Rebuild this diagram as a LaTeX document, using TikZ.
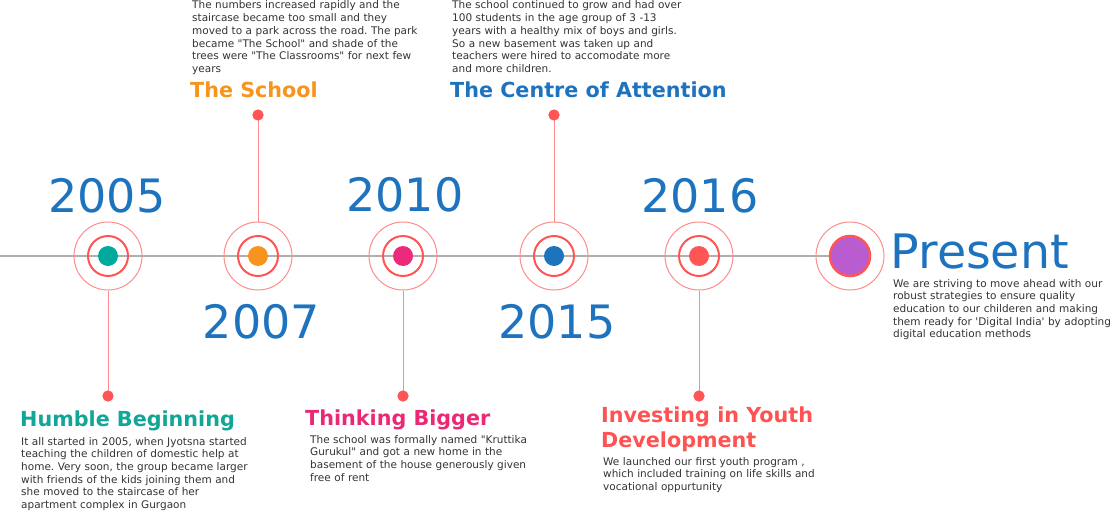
\documentclass[tikz,border=0pt]{standalone}
\usepackage{fontspec}
\setmainfont{DejaVu Sans}[Ligatures=TeXOff]
\definecolor{yearblue}{RGB}{30,115,190}
\definecolor{hteal}{RGB}{17,166,152}
\definecolor{horange}{RGB}{247,148,30}
\definecolor{hpink}{RGB}{236,40,118}
\definecolor{hred}{RGB}{255,82,82}
\definecolor{bodygray}{RGB}{51,51,51}
\definecolor{dteal}{RGB}{0,169,157}
\definecolor{dorange}{RGB}{247,148,30}
\definecolor{dpink}{RGB}{236,41,123}
\definecolor{dblue}{RGB}{28,117,188}
\definecolor{dred}{RGB}{255,85,85}
\definecolor{dpurple}{RGB}{184,92,208}
\definecolor{ringred}{RGB}{255,85,85}
\definecolor{ringlight}{RGB}{255,140,140}
\definecolor{axisgray}{RGB}{175,175,175}
\tikzset{
  outerring/.style={circle,draw=ringlight,line width=1pt,minimum size=68pt,inner sep=0pt},
  innerring/.style={circle,draw=ringred,line width=2pt,minimum size=40pt,inner sep=0pt},
  centredot/.style={circle,fill=#1,minimum size=20pt,inner sep=0pt},
  enddot/.style={circle,fill=ringred,minimum size=11pt,inner sep=0pt},
  connector/.style={draw=ringlight,line width=1pt},
  yearlabel/.style={anchor=base,inner sep=0pt,text=yearblue,font=\fontsize{46}{50}\selectfont},
  heading/.style={anchor=base west,inner sep=0pt,text=#1,align=left,font=\fontsize{20.7}{25}\selectfont\bfseries},
  bodytext/.style={anchor=base west,inner sep=0pt,text=bodygray,text width=300pt,align=left,font=\fontsize{10.5}{12.7}\selectfont\frenchspacing},
}
\begin{document}
\begin{tikzpicture}[x=1pt,y=-1pt]
\useasboundingbox (0,0) rectangle (1110,511);
% present circle first (for line end)
\node[outerring] (po) at (850,256) {};
\node[circle,fill=dpurple,draw=ringred,line width=2.5pt,minimum size=40pt,inner sep=0pt] (pc) at (850,256) {};
\coordinate (start) at (0,256);
\draw[axisgray,line width=1.6pt] (start) -- (pc.west);
% milestones
\foreach \n/\x/\c in {1/108/dteal,2/258/dorange,3/403/dpink,4/554/dblue,5/699/dred}{
  \node[outerring] (o\n) at (\x,256) {};
  \node[innerring] (i\n) at (\x,256) {};
  \node[centredot=\c] (c\n) at (\x,256) {};
}
% end dots
\node[enddot] (e1) at (108,396) {};
\node[enddot] (e2) at (258,115) {};
\node[enddot] (e3) at (403,396) {};
\node[enddot] (e4) at (554,115) {};
\node[enddot] (e5) at (699,396) {};
\draw[connector] (o1.south) -- (e1.center);
\draw[connector] (o2.north) -- (e2.center);
\draw[connector] (o3.south) -- (e3.center);
\draw[connector] (o4.north) -- (e4.center);
\draw[connector] (o5.south) -- (e5.center);
\node[enddot] at (e1) {};
\node[enddot] at (e2) {};
\node[enddot] at (e3) {};
\node[enddot] at (e4) {};
\node[enddot] at (e5) {};
% years
\node[yearlabel] (y1) at (107,212) {2005};
\node[yearlabel] (y2) at (261.5,338) {2007};
\node[yearlabel] (y3) at (405,211) {2010};
\node[yearlabel] (y4) at (557,338) {2015};
\node[yearlabel] (y5) at (700,212) {2016};
\node[anchor=base west,inner sep=0pt,text=yearblue,font=\fontsize{47.5}{50}\selectfont] (pt) at (890.5,268) {Present};
% headings
\node[heading=hteal] (h1) at (20,426) {Humble Beginning};
\node[heading=horange] (h2) at (190,97) {The School};
\node[heading=hpink] (h3) at (305,425) {Thinking Bigger};
\node[heading=yearblue] (h4) at (450,97) {The Centre of Attention};
\node[heading=hred] (h5) at (601,447) {Investing in Youth\\Development};
% bodies
\node[bodytext] (b1) at (21,445) {It all started in 2005, when Jyotsna started\\teaching the children of domestic help at\\home. Very soon, the group became larger\\with friends of the kids joining them and\\she moved to the staircase of her\\apartment complex in Gurgaon};
\node[bodytext] (b2) at (192,9) {The numbers increased rapidly and the\\staircase became too small and they\\moved to a park across the road. The park\\became "The School" and shade of the\\trees were "The Classrooms" for next few\\years};
\node[bodytext] (b3) at (310,443) {The school was formally named "Kruttika\\Gurukul" and got a new home in the\\basement of the house generously given\\free of rent};
\node[bodytext] (b4) at (452,9) {The school continued to grow and had over\\100 students in the age group of 3 -13\\years with a healthy mix of boys and girls.\\So a new basement was taken up and\\teachers were hired to accomodate more\\and more children.};
\node[bodytext] (b5) at (603,465) {We launched our first youth program ,\\which included training on life skills and\\vocational oppurtunity};
\node[bodytext] (b6) at (893,287) {We are striving to move ahead with our\\robust strategies to ensure quality\\education to our childeren and making\\them ready for 'Digital India' by adopting\\digital education methods};
\end{tikzpicture}
\end{document}
